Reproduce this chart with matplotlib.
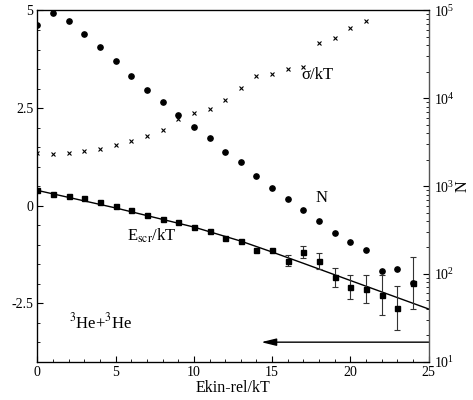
import numpy as np
import matplotlib
matplotlib.use("Agg")
import matplotlib.pyplot as plt
from matplotlib.ticker import MultipleLocator, LogLocator, NullFormatter

plt.rcParams['font.family'] = 'serif'
plt.rcParams['font.serif'] = ['Liberation Serif', 'DejaVu Serif']
plt.rcParams['mathtext.fontset'] = 'stix'
plt.rcParams['axes.unicode_minus'] = False

# N (right, log axis)
n_x = list(range(25))
n_vals = [68400, 94400, 75300, 54400, 38400, 26400, 18100, 12400, 9000, 6500,
          4710, 3500, 2460, 1870, 1310, 944, 719, 530, 404, 292,
          229, 186, 108, 113, 79]

# sigma/kT (right, log axis)
sig_x = list(range(22))
sig_vals = [2370, 2300, 2380, 2510, 2630, 2920, 3290, 3720, 4360, 5770,
            6800, 7500, 9490, 13000, 17900, 18900, 21400, 22700, 43000, 49000,
            62700, 76600]

# E_scr/kT (left axis)
e_x = list(range(25))
e_vals = [0.40, 0.30, 0.24, 0.19, 0.09, -0.01, -0.11, -0.23, -0.35, -0.43,
          -0.55, -0.66, -0.84, -0.90, -1.13, -1.13, -1.41, -1.19, -1.42, -1.84,
          -2.09, -2.14, -2.29, -2.63, -1.99]
e_err = [0, 0, 0, 0, 0, 0, 0, 0, 0, 0,
         0, 0, 0, 0, 0, 0, 0.14, 0.15, 0.20, 0.24,
         0.30, 0.35, 0.52, 0.56, 0.66]

# fitted curve
fit_x = [0, 5, 10, 13, 15, 17, 20, 25]
fit_y = [0.39, -0.06, -0.55, -0.91, -1.19, -1.48, -1.92, -2.65]

fig = plt.figure(figsize=(4.73, 4.0), dpi=100)
ax = fig.add_axes([0.0789, 0.0958, 0.8274, 0.878])
ax2 = ax.twinx()

# left axis data
ax.plot(fit_x, fit_y, color='black', lw=1.0, zorder=2)
err_idx = [i for i in range(len(e_err)) if e_err[i] > 0]
ax.errorbar([e_x[i] for i in err_idx], [e_vals[i] for i in err_idx],
            yerr=[e_err[i] for i in err_idx], fmt='none', ecolor='#333333',
            elinewidth=0.8, capsize=2.5, capthick=0.8, zorder=3)
ax.plot(e_x, e_vals, 's', color='black', ms=3.6, zorder=4)

ax.set_xlim(0, 25)
ax.set_ylim(-4, 5)
ax.xaxis.set_major_locator(MultipleLocator(5))
ax.xaxis.set_minor_locator(MultipleLocator(1))
ax.yaxis.set_minor_locator(MultipleLocator(0.5))
ax.set_yticks([-2.5, 0, 2.5, 5])
ax.set_yticklabels(['-2.5', '0', '2.5', '5'])
ax.tick_params(which='both', direction='in', top=False, right=False, labelsize=10)
ax.tick_params(which='major', length=4, width=0.8, pad=3)
ax.tick_params(which='minor', length=2, width=0.6)
ax.set_xlabel('Ekin-rel/kT', fontsize=11.5, labelpad=1)

# right axis data
ax2.set_yscale('log')
ax2.plot(n_x, n_vals, 'o', color='black', ms=3.8, zorder=4)
ax2.plot(sig_x, sig_vals, 'x', color='black', ms=3.3, mew=0.8, zorder=4)
ax2.set_ylim(10, 1e5)
ax2.yaxis.set_major_locator(LogLocator(base=10, numticks=10))
ax2.yaxis.set_minor_locator(LogLocator(base=10, subs=np.arange(2, 10), numticks=10))
ax2.yaxis.set_minor_formatter(NullFormatter())
ax2.tick_params(which='both', direction='in', labelsize=10)
ax2.tick_params(which='major', length=4, width=0.8, pad=4)
ax2.tick_params(which='minor', length=2, width=0.6)
ax2.set_ylabel('N', fontsize=11.5, labelpad=0)

for sp in ax2.spines.values():
    sp.set_linewidth(0.9)
ax2.spines['right'].set_color('#555555')

# arrow pointing to the left (refers to right axis)
ax.annotate('', xy=(14.3, -3.5), xytext=(25, -3.5),
            arrowprops=dict(arrowstyle='-|>,head_length=0.9,head_width=0.22',
                            color='black', lw=1.0, shrinkA=0, shrinkB=0))

# labels
ax.text(16.88, 3.35, 'σ/kT', fontsize=12, ha='left', va='center')
ax.text(18.16, 0.19, 'N', fontsize=12, ha='center', va='center')
ax.text(5.7, -0.78, r'E$_{\rm scr}$/kT', fontsize=12, ha='left', va='center')
ax.text(2.05, -3.0, r'$^3$He+$^3$He', fontsize=12, ha='left', va='center')

fig.savefig('out.png', dpi=100)
